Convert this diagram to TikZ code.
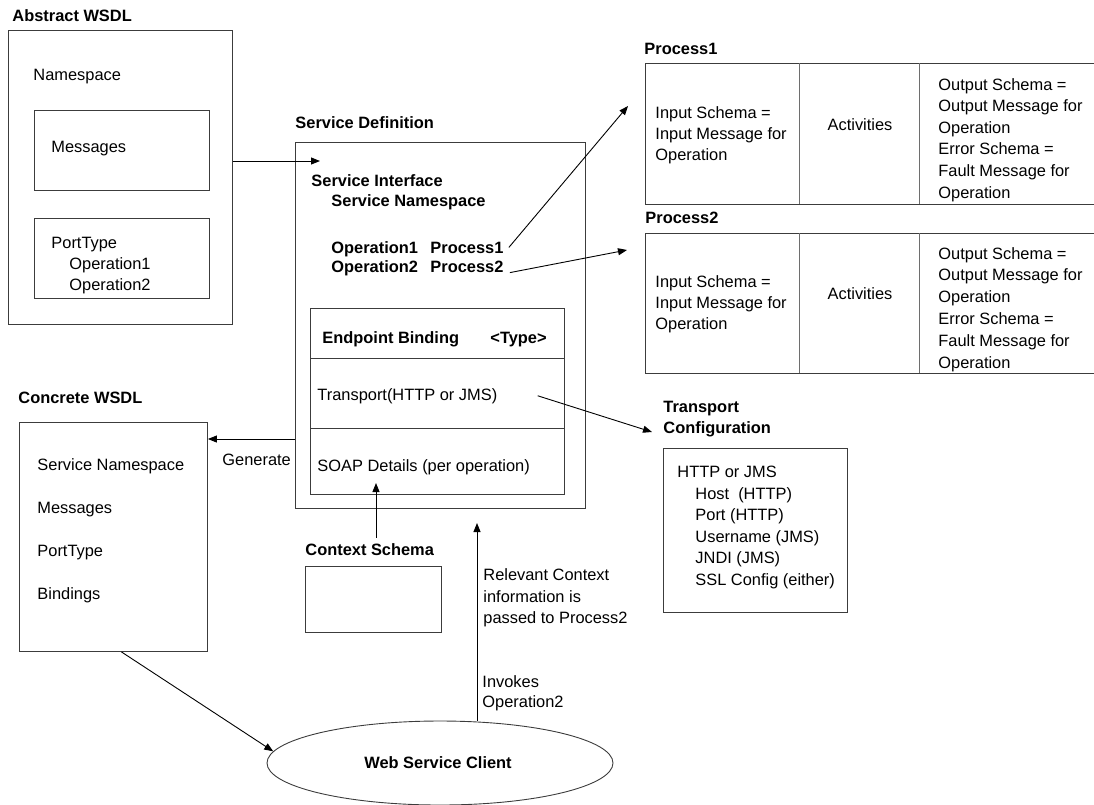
\documentclass[tikz,border=0pt]{standalone}
\usepackage{fontspec}
\setmainfont{Liberation Sans}
\usetikzlibrary{arrows.meta,shapes.geometric}
\definecolor{rahmen}{RGB}{60,60,60}
\definecolor{teiler}{RGB}{110,110,110}
\newcommand{\fs}{\fontsize{16.4}{20}\selectfont}
\tikzset{>={Triangle[length=9pt,width=7pt]}}
\tikzset{
	box/.style={draw=rahmen, anchor=north west, inner sep=0pt},
	txt/.style={anchor=base west, inner sep=0pt},
	titel/.style={txt, font=\fs\bfseries},
}

\begin{document}
\begin{tikzpicture}[x=1pt, y=-1pt, line width=0.9pt, font=\fs]
	\useasboundingbox (0,0) rectangle (1094,804);

	% Abstract WSDL
	\node[titel] (abst) at (12,21) {Abstract WSDL};
	\node[box, minimum width=224pt, minimum height=294pt] (abs) at (8,30) {};
	\node[txt] (absns) at (33,80) {Namespace};
	\node[box, minimum width=175pt, minimum height=80pt] (msg) at (34,110) {};
	\node[txt] (msgt) at (51,152) {Messages};
	\node[box, minimum width=175pt, minimum height=80pt] (pt) at (34,218) {};
	\node[txt] (ptt) at (51,248) {PortType};
	\node[txt] (pto1) at (69,269) {Operation1};
	\node[txt] (pto2) at (69,290) {Operation2};

	% Service Definition
	\node[titel] (sdt) at (295,128) {Service Definition};
	\node[box, minimum width=290pt, minimum height=366pt] (sd) at (295,142) {};
	\node[titel] (si) at (311,186) {Service Interface};
	\node[titel] (sns) at (331,206) {Service Namespace};
	\node[titel] (op1) at (331,253) {Operation1};
	\node[titel] (pr1) at (430,253) {Process1};
	\node[titel] (op2) at (331,272) {Operation2};
	\node[titel] (pr2) at (430,272) {Process2};

	\node[box, minimum width=254pt, minimum height=186pt] (eb) at (310,308) {};
	\draw[rahmen] (310,358) -- (564,358);
	\draw[rahmen] (310,428) -- (564,428);
	\node[titel] (ebt) at (322,343) {Endpoint Binding};
	\node[titel] (ebty) at (490,343) {<Type>};
	\node[txt] (tr) at (317,400) {Transport(HTTP or JMS)};
	\node[txt] (soap) at (317,471) {SOAP Details (per operation)};

	% Process1
	\node[titel] (p1t) at (644,54) {Process1};
	\node[box, minimum width=460pt, minimum height=141pt] (p1) at (645,63) {};
	\draw[teiler] (799,63) -- (799,204);
	\draw[teiler] (919,63) -- (919,204);
	\foreach \z [count=\i from 0] in {Input Schema =,Input Message for,Operation}
		\node[txt] (p1i\i) at (655,{118+21.2*\i}) {\z};
	\node[anchor=base, inner sep=0pt] (p1a) at (860,130) {Activities};
	\foreach \z [count=\i from 0] in {Output Schema =,Output Message for,Operation,Error Schema =,Fault Message for,Operation}
		\node[txt] (p1o\i) at (938,{90+21.6*\i}) {\z};

	% Process2
	\node[titel] (p2t) at (645,223) {Process2};
	\node[box, minimum width=460pt, minimum height=140pt] (p2) at (645,233) {};
	\draw[teiler] (799,233) -- (799,373);
	\draw[teiler] (919,233) -- (919,373);
	\foreach \z [count=\i from 0] in {Input Schema =,Input Message for,Operation}
		\node[txt] (p2i\i) at (655,{287+21.2*\i}) {\z};
	\node[anchor=base, inner sep=0pt] (p2a) at (860,299) {Activities};
	\foreach \z [count=\i from 0] in {Output Schema =,Output Message for,Operation,Error Schema =,Fault Message for,Operation}
		\node[txt] (p2o\i) at (938,{259+21.8*\i}) {\z};

	% Transport Configuration
	\node[titel] (tct1) at (663,412) {Transport};
	\node[titel] (tct2) at (663,433) {Configuration};
	\node[box, minimum width=184pt, minimum height=164pt] (tc) at (663,448) {};
	\node[txt] (tch) at (677,477) {HTTP or JMS};
	\foreach \z [count=\i from 0] in {Host\ \ (HTTP),Port (HTTP),Username (JMS),JNDI (JMS),SSL Config (either)}
		\node[txt] (tc\i) at (695,{499+21.6*\i}) {\z};

	% Concrete WSDL
	\node[titel] (cwt) at (18,403) {Concrete WSDL};
	\node[box, minimum width=188pt, minimum height=229pt] (cw) at (19,422) {};
	\foreach \z [count=\i from 0] in {Service Namespace,Messages,PortType,Bindings}
		\node[txt] (cw\i) at (37,{470+43*\i}) {\z};
	\node[txt] (gen) at (222,465) {Generate};

	% Context Schema
	\node[titel] (ctxt) at (305,555) {Context Schema};
	\node[box, minimum width=136pt, minimum height=66pt] (ctx) at (305,566) {};
	\node[txt] (rel1) at (483,580) {Relevant Context};
	\node[txt] (rel2) at (483,602) {information is};
	\node[txt] (rel3) at (483,623) {passed to Process2};
	\node[txt] (inv1) at (482,687) {Invokes};
	\node[txt] (inv2) at (482,707) {Operation2};

	% Client
	\node[draw=rahmen, ellipse, minimum width=346pt, minimum height=84pt, inner sep=0pt] (wsc) at (440,763) {};
	\node[inner sep=0pt, font=\fs\bfseries] (wsct) at (438,763) {Web Service Client};

	% Verbindungen
	\coordinate (sdin) at (320,161);
	\coordinate (p1in) at (628,106);
	\coordinate (p2in) at (627,250);
	\coordinate (tcin) at (652,432);
	\coordinate (genpt) at (0,439);
	\coordinate (soapin) at (376,483);
	\coordinate (sdbot) at (477,523);

	\draw[->] (abs.east |- sdin) -- (sdin);
	\draw[->] ([xshift=5pt]pr1.east) -- (p1in);
	\draw[->] ([xshift=6pt]pr2.south east) -- (p2in);
	\draw[->] ([xshift=40pt]tr.east) -- (tcin);
	\draw[->] (sd.west |- genpt) -- (cw.east |- genpt);
	\draw[->, shorten <=5pt] (ctxt.north -| soapin) -- (soapin);
	\draw[->] (wsc.north -| sdbot) -- (sdbot);
	\draw[->] ([xshift=8pt]cw.south) -- (wsc.176);

\end{tikzpicture}
\end{document}
